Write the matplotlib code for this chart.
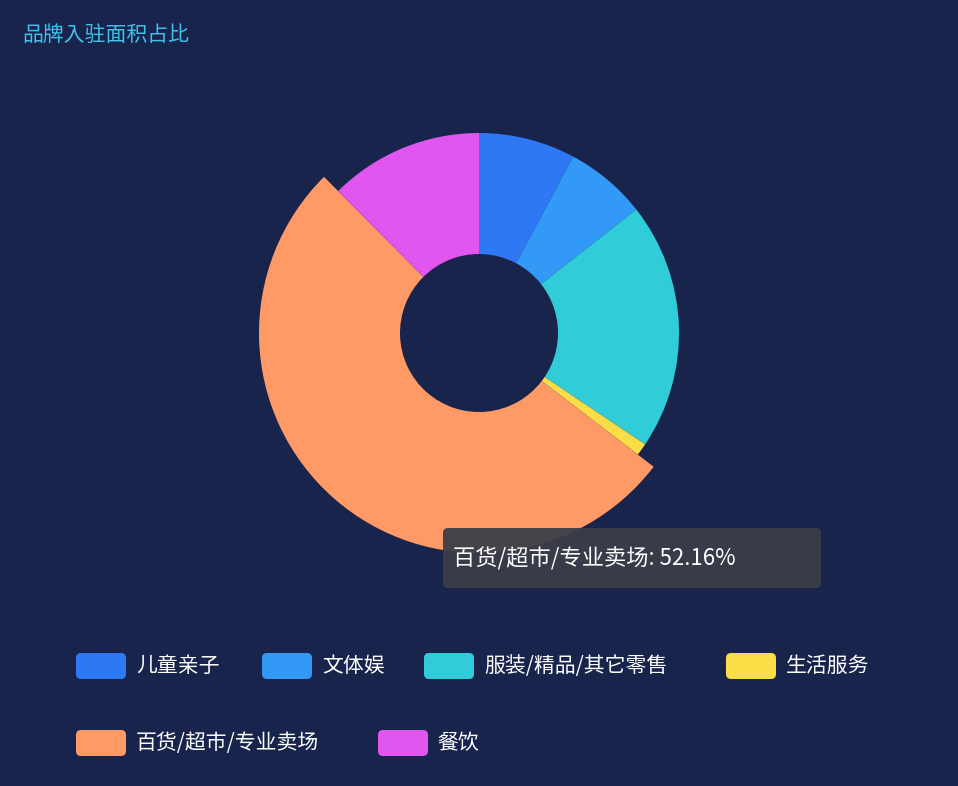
import matplotlib.pyplot as plt
from matplotlib import font_manager as fm
from matplotlib.patches import FancyBboxPatch

# pick an installed CJK font
cjk = None
for f in fm.findSystemFonts():
    if 'CJK' in f or 'cjk' in f.lower():
        try:
            fm.fontManager.addfont(f)
            name = fm.FontProperties(fname=f).get_name()
            if cjk is None or 'SC' in name:
                cjk = name
        except Exception:
            pass
plt.rcParams['font.family'] = [cjk or 'Noto Sans CJK SC', 'DejaVu Sans']

# ── Data ──────────────────────────────────────────────────────────────────────
labels = ['儿童亲子', '文体娱', '服装/精品/其它零售', '生活服务', '百货/超市/专业卖场', '餐饮']
values = [7.8, 6.6, 20.0, 1.0, 52.16, 12.44]
colors = ['#2f78f5', '#3399f7', '#30ccd8', '#f9de48', '#ff9966', '#e056ee']
highlight = 4

BG = '#19244d'
H = 786

fig = plt.figure(figsize=(9.58, 7.86), dpi=100)
fig.patch.set_facecolor(BG)
ax = fig.add_axes([0, 0, 1, 1])
ax.set_facecolor(BG)

cx, cy = 479, H - 333
r_out, r_in = 200, 79
wedges, _ = ax.pie(values, colors=colors, startangle=90, counterclock=False,
                   center=(cx, cy), radius=r_out, frame=True,
                   wedgeprops=dict(width=r_out - r_in, linewidth=0))
wedges[highlight].set_radius(r_out + 20)
wedges[highlight].set_width(r_out + 20 - r_in)
ax.set_xlim(0, 958)
ax.set_ylim(0, H)
ax.set_aspect('equal')
ax.axis('off')

# Title
ax.text(22, H - 35, '品牌入驻面积占比', color='#3fc1ea', fontsize=15, va='center')

# Tooltip
ax.add_patch(FancyBboxPatch((443, H - 588), 378, 60,
                            boxstyle='round,pad=0,rounding_size=5',
                            fc='#3b3e48', ec='none', alpha=0.95, zorder=5))
ax.text(453, H - 559, f'{labels[highlight]}: {values[highlight]:.2f}%',
        color='white', fontsize=16, va='center', zorder=6)

# Legend
legend_pos = [(76, 666), (262, 666), (424, 666), (726, 666), (76, 743), (378, 743)]
for (lx, ly), lab, col in zip(legend_pos, labels, colors):
    ax.add_patch(FancyBboxPatch((lx, H - ly - 13), 50, 26,
                                boxstyle='round,pad=0,rounding_size=5',
                                fc=col, ec='none'))
    ax.text(lx + 60, H - ly, lab, color='white', fontsize=15, va='center')

fig.savefig('out.png', dpi=100, facecolor=BG)
